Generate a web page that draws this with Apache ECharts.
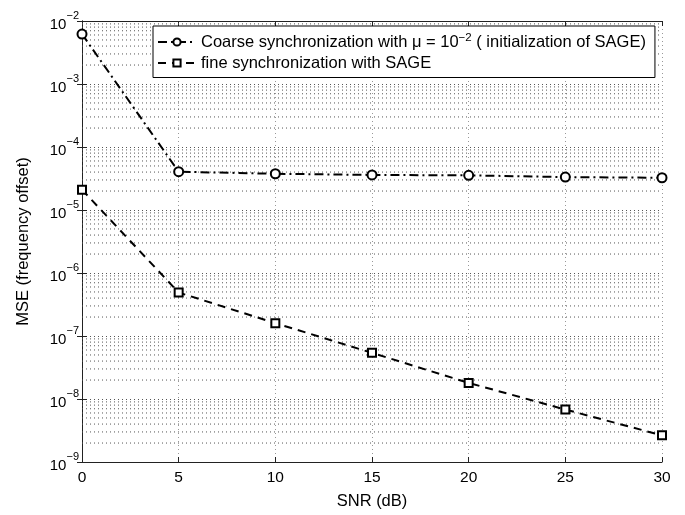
<!DOCTYPE html>
<html><head><meta charset="utf-8">
<script src="https://cdn.jsdelivr.net/npm/echarts@6/dist/echarts.min.js"></script>
<style>html,body{margin:0;padding:0;background:#fff}#c{width:685px;height:515px}</style>
</head><body><div id="c"></div>
<script>
const snr = [0, 5, 10, 15, 20, 25, 30];
const coarse = [6.2e-3, 4.05e-5, 3.76e-5, 3.6e-5, 3.55e-5, 3.33e-5, 3.25e-5];
const fine = [2.1e-5, 4.9e-7, 1.6e-7, 5.4e-8, 1.8e-8, 6.8e-9, 2.65e-9];
const xTicks = [0, 5, 10, 15, 20, 25, 30];
const yDecades = [-9, -8, -7, -6, -5, -4, -3, -2];
const seriesNames = ['Coarse synchronization with \u03bc = 10^-2 ( initialization of SAGE)', 'fine synchronization with SAGE'];

const minorVals = [];
for (let i = 0; i < yDecades.length - 1; i++) {
  for (let m = 2; m <= 9; m++) minorVals.push(m * Math.pow(10, yDecades[i]));
}
const font = 'Liberation Sans';
const gridColor = '#555';

function expLabel(v) {
  const e = Math.round(Math.log10(v));
  return '{b|10}{s|\u2212' + Math.abs(e) + '}';
}
const rich = {
  b: { fontFamily: font, fontSize: 15, color: '#000', padding: [7, 0, 0, 0] },
  s: { fontFamily: font, fontSize: 11, color: '#000', verticalAlign: 'top', padding: [0, 0, 7, 0] }
};

const minorSeries = minorVals.map(v => ({
  name: 'minor', type: 'line', silent: true, z: 1,
  data: [[xTicks[0], v], [xTicks[xTicks.length - 1], v]],
  symbol: 'none', showSymbol: false,
  lineStyle: { color: gridColor, type: [1, 3], width: 1 },
  emphasis: { disabled: true }, tooltip: { show: false }
}));

const chart = echarts.init(document.getElementById('c'), null, { renderer: 'canvas' });
chart.setOption({
  animation: false,
  backgroundColor: '#fff',
  grid: { left: 82, right: 23, top: 21, bottom: 52, show: false },
  legend: {
    data: seriesNames,
    orient: 'vertical',
    left: 153, top: 26,
    itemWidth: 38, itemHeight: 9,
    itemGap: 4,
    padding: [6, 9, 6, 4],
    backgroundColor: '#fff',
    borderColor: '#000', borderWidth: 1,
    z: 10,
    textStyle: { fontFamily: font, fontSize: 16.5, color: '#000', rich: {
      n: { fontFamily: font, fontSize: 16.5, color: '#000' },
      s: { fontFamily: font, fontSize: 11.5, color: '#000', verticalAlign: 'top', padding: [0, 0, 8, 0] }
    } },
    formatter: function (name) {
      if (name === seriesNames[0]) {
        return '{n|Coarse synchronization with \u03bc = 10}{s|\u22122}{n| ( initialization of SAGE)}';
      }
      return '{n|' + name + '}';
    }
  },
  xAxis: [{
    type: 'value', min: 0, max: 30, interval: 5,
    name: 'SNR (dB)', nameLocation: 'middle', nameGap: 31,
    nameTextStyle: { fontFamily: font, fontSize: 16.5, color: '#000' },
    axisLine: { show: true, lineStyle: { color: '#222', width: 1 } },
    axisTick: { show: true, inside: true, length: 5, lineStyle: { color: '#222' } },
    axisLabel: { fontFamily: font, fontSize: 15.5, color: '#000', margin: 8 },
    splitLine: { show: true, lineStyle: { color: '#999', type: [1, 3], width: 1 } }
  }, {
    type: 'value', min: 0, max: 30, interval: 5, position: 'top',
    axisLine: { show: true, lineStyle: { color: '#222', width: 1 } },
    axisTick: { show: true, inside: true, length: 5, lineStyle: { color: '#222' } },
    axisLabel: { show: false }, splitLine: { show: false }
  }],
  yAxis: [{
    type: 'log', logBase: 10, min: 1e-9, max: 1e-2,
    name: 'MSE (frequency offset)', nameLocation: 'middle', nameGap: 50,
    nameTextStyle: { fontFamily: font, fontSize: 16.5, color: '#000' },
    axisLine: { show: true, lineStyle: { color: '#222', width: 1 } },
    axisTick: { show: true, inside: true, length: 5, lineStyle: { color: '#222' } },
    axisLabel: { formatter: expLabel, rich: rich, margin: 3 },
    splitLine: { show: true, lineStyle: { color: gridColor, type: [1, 3], width: 1 } }
  }, {
    type: 'log', logBase: 10, min: 1e-9, max: 1e-2, position: 'right',
    axisLine: { show: true, lineStyle: { color: '#222', width: 1 } },
    axisTick: { show: true, inside: true, length: 5, lineStyle: { color: '#222' } },
    axisLabel: { show: false }, splitLine: { show: false }
  }],
  series: minorSeries.concat([{
    name: seriesNames[0], type: 'line',
    data: snr.map((x, i) => [x, coarse[i]]),
    symbol: 'circle', symbolSize: 9,
    itemStyle: { color: '#fff', borderColor: '#000', borderWidth: 2 },
    lineStyle: { color: '#000', width: 2, type: [9, 4, 2, 4] },
    z: 5
  }, {
    name: seriesNames[1], type: 'line',
    data: snr.map((x, i) => [x, fine[i]]),
    symbol: 'rect', symbolSize: 8,
    itemStyle: { color: '#fff', borderColor: '#000', borderWidth: 2 },
    lineStyle: { color: '#000', width: 2, type: [8, 6] },
    z: 5
  }])
});
</script></body></html>
